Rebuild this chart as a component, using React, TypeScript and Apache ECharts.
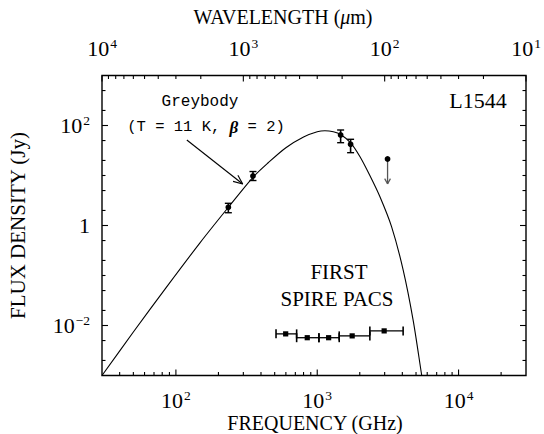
import React, { useEffect, useRef } from 'react';
import * as echarts from 'echarts';

// Greybody model curve
const greybodyFreq = [30, 50, 84, 148, 235, 351, 450, 600, 800, 1000, 1133, 1300, 1464, 1722, 2003, 2357, 2773, 3356, 4053, 4766, 5470, 5700];
const greybodyFlux = [0.001, 0.0074, 0.054, 0.45, 2.31, 9.2, 18, 36, 59, 75, 78.7, 75, 66, 45, 24, 10, 3.8, 0.95, 0.13, 0.013, 0.00106, 0.0005];

// Observed points with error bars
const obsFreq = [235, 351, 1464, 1722];
const obsFlux = [2.31, 9.77, 64.6, 42];
const obsLow = [1.8, 7.94, 45.3, 28.6];
const obsHigh = [2.78, 12.0, 81.3, 53];

// Upper limit
const ulFreq = [3145];
const ulFlux = [21.4];
const ulTip = [6.8];

// FIRST SPIRE / PACS bands
const bandLow = [511, 715, 1028, 1431, 2357];
const bandHigh = [715, 1028, 1431, 2357, 4053];
const bandCenter = [598, 850, 1204, 1767, 2975];
const bandFlux = [0.0068, 0.0057, 0.0057, 0.0062, 0.0078];

// Annotation arrow (data coordinates)
const arrowFrom = [119.5, 51.3];
const arrowTo = [297, 6.76];

// Axis ranges
const freqMin = 30;
const freqMax = 30000;
const waveMin = 10;
const waveMax = 10000;
const fluxMin = 0.001;
const fluxMax = 1000;

// Tick values
const freqMajor = [100, 1000, 10000];
const freqMult = [2, 3, 4, 5, 6, 7, 8, 9];
const freqDecades = [10, 100, 1000, 10000];
const waveMajor = [10, 100, 1000, 10000];
const waveDecades = [10, 100, 1000];
const fluxMajor = [0.01, 1, 100];
const fluxDecades = [0.001, 0.01, 0.1, 1, 10, 100];
const fluxMult = [1, 2, 5];

const SERIF = '"Liberation Serif", "Times New Roman", serif';
const MONO = '"Liberation Mono", "DejaVu Sans Mono", monospace';
const MAJOR = 6;
const MINOR = 3.5;

function buildFreqTicks() {
  const t: number[][] = [];
  freqMajor.forEach((v) => t.push([v, fluxMin, MAJOR]));
  freqDecades.forEach((d) =>
    freqMult.forEach((m) => {
      const v = d * m;
      if (v > freqMin && v < freqMax) t.push([v, fluxMin, MINOR]);
    })
  );
  return t;
}
function buildWaveTicks() {
  const t: number[][] = [];
  waveMajor.forEach((v) => t.push([v, fluxMax, MAJOR]));
  waveDecades.forEach((d) =>
    freqMult.forEach((m) => {
      const v = d * m;
      if (v > waveMin && v < waveMax) t.push([v, fluxMax, MINOR]);
    })
  );
  return t;
}
function buildFluxTicks() {
  const t: number[][] = [];
  fluxDecades.forEach((d) =>
    fluxMult.forEach((m) => {
      const v = d * m;
      if (v > fluxMin && v < fluxMax) {
        const major = fluxMajor.some((x) => Math.abs(x - v) / x < 1e-6);
        t.push([freqMin, v, major ? MAJOR : MINOR]);
      }
    })
  );
  return t;
}

function powLabel(v: number, evenOnly: boolean) {
  const e = Math.log10(v);
  const r = Math.round(e);
  if (Math.abs(e - r) > 1e-6) return '';
  if (evenOnly && r % 2 !== 0) return '';
  if (r === 0) return '{b|1}';
  return `{b|10}{s|${r < 0 ? '\u2212' : ''}${Math.abs(r)}}`;
}

const labelRich = {
  b: { fontFamily: SERIF, fontSize: 22, color: '#000' },
  s: { fontFamily: SERIF, fontSize: 13.5, color: '#000', padding: [0, 0, 10, 1] },
};

const line = (x1: number, y1: number, x2: number, y2: number, w = 1, c = '#000') => ({
  type: 'line',
  shape: { x1, y1, x2, y2 },
  style: { stroke: c, lineWidth: w },
});

function arrowHead(tip: number[], from: number[], len: number, ang: number, w: number, c: string) {
  const dx = from[0] - tip[0];
  const dy = from[1] - tip[1];
  const L = Math.hypot(dx, dy) || 1;
  const ux = dx / L;
  const uy = dy / L;
  const rot = (a: number) => [ux * Math.cos(a) - uy * Math.sin(a), ux * Math.sin(a) + uy * Math.cos(a)];
  const a1 = rot(ang);
  const a2 = rot(-ang);
  return [
    line(tip[0], tip[1], tip[0] + a1[0] * len, tip[1] + a1[1] * len, w, c),
    line(tip[0], tip[1], tip[0] + a2[0] * len, tip[1] + a2[1] * len, w, c),
  ];
}

export default function App() {
  const ref = useRef<HTMLDivElement>(null);

  useEffect(() => {
    if (!ref.current) return;
    const chart = echarts.init(ref.current, undefined, { renderer: 'svg' });

    const curve = greybodyFreq.map((f, i) => [f, greybodyFlux[i]]);
    const obs = obsFreq.map((f, i) => [f, obsFlux[i], obsLow[i], obsHigh[i]]);
    const ul = ulFreq.map((f, i) => [f, ulFlux[i], ulTip[i]]);
    const bands = bandCenter.map((f, i) => [f, bandFlux[i], bandLow[i], bandHigh[i]]);

    const option: any = {
      animation: false,
      backgroundColor: '#fff',
      grid: {
        left: 102,
        right: 18,
        top: 75.5,
        bottom: 58.5,
        show: true,
        borderColor: '#000',
        borderWidth: 1.4,
        containLabel: false,
        outerBoundsMode: 'none',
      },
      xAxis: [
        {
          type: 'log',
          logBase: 10,
          min: freqMin,
          max: freqMax,
          position: 'bottom',
          axisLine: { show: false },
          axisTick: { show: false },
          splitLine: { show: false },
          minorTick: { show: false },
          axisLabel: {
            formatter: (v: number) => powLabel(v, false),
            rich: labelRich,
            margin: 13,
          },
        },
        {
          type: 'log',
          logBase: 10,
          min: waveMin,
          max: waveMax,
          inverse: true,
          position: 'top',
          axisLine: { show: false },
          axisTick: { show: false },
          splitLine: { show: false },
          axisLabel: {
            formatter: (v: number) => powLabel(v, false),
            rich: labelRich,
            margin: 15,
          },
        },
      ],
      yAxis: [
        {
          type: 'log',
          logBase: 10,
          min: fluxMin,
          max: fluxMax,
          axisLine: { show: false },
          axisTick: { show: false },
          splitLine: { show: false },
          axisLabel: {
            formatter: (v: number) => powLabel(v, true),
            rich: labelRich,
            margin: 12,
          },
          name: 'FLUX DENSITY (Jy)',
          nameLocation: 'middle',
          nameGap: 73.5,
          nameRotate: 90,
          nameTextStyle: { fontFamily: SERIF, fontSize: 21, color: '#000' },
        },
      ],
      series: [
        {
          name: 'Greybody',
          type: 'line',
          data: curve,
          xAxisIndex: 0,
          yAxisIndex: 0,
          smooth: 0.3,
          showSymbol: false,
          symbol: 'none',
          clip: true,
          lineStyle: { color: '#000', width: 1.1 },
          silent: true,
          z: 3,
        },
        {
          name: 'freqTicks',
          type: 'custom',
          xAxisIndex: 0,
          yAxisIndex: 0,
          data: buildFreqTicks(),
          encode: { x: 0, y: 1 },
          silent: true,
          renderItem: (_p: any, api: any) => {
            const v = api.value(0);
            const len = api.value(2);
            const p = api.coord([v, fluxMin]);
            return line(p[0], p[1], p[0], p[1] - len, 1.1);
          },
        },
        {
          name: 'waveTicks',
          type: 'custom',
          xAxisIndex: 1,
          yAxisIndex: 0,
          data: buildWaveTicks(),
          encode: { x: 0, y: 1 },
          silent: true,
          renderItem: (_p: any, api: any) => {
            const v = api.value(0);
            const len = api.value(2);
            const p = api.coord([v, fluxMax]);
            return line(p[0], p[1], p[0], p[1] + len, 1.1);
          },
        },
        {
          name: 'fluxTicks',
          type: 'custom',
          xAxisIndex: 0,
          yAxisIndex: 0,
          data: buildFluxTicks(),
          encode: { x: 0, y: 1 },
          silent: true,
          renderItem: (_p: any, api: any) => {
            const v = api.value(1);
            const len = api.value(2);
            const l = api.coord([freqMin, v]);
            const r = api.coord([freqMax, v]);
            return {
              type: 'group',
              children: [line(l[0], l[1], l[0] + len, l[1], 1.1), line(r[0], r[1], r[0] - len, r[1], 1.1)],
            };
          },
        },
        {
          name: 'Observed',
          type: 'custom',
          xAxisIndex: 0,
          yAxisIndex: 0,
          data: obs,
          encode: { x: 0, y: 1 },
          silent: true,
          z: 4,
          renderItem: (_p: any, api: any) => {
            const f = api.value(0);
            const p = api.coord([f, api.value(1)]);
            const a = api.coord([f, api.value(2)]);
            const b = api.coord([f, api.value(3)]);
            const cw = 3.5;
            return {
              type: 'group',
              children: [
                line(p[0], a[1], p[0], b[1], 1.6),
                line(p[0] - cw, a[1], p[0] + cw, a[1], 1.4),
                line(p[0] - cw, b[1], p[0] + cw, b[1], 1.4),
                { type: 'circle', shape: { cx: p[0], cy: p[1], r: 2.9 }, style: { fill: '#000' } },
              ],
            };
          },
        },
        {
          name: 'UpperLimit',
          type: 'custom',
          xAxisIndex: 0,
          yAxisIndex: 0,
          data: ul,
          encode: { x: 0, y: 1 },
          silent: true,
          z: 4,
          renderItem: (_p: any, api: any) => {
            const f = api.value(0);
            const p = api.coord([f, api.value(1)]);
            const t = api.coord([f, api.value(2)]);
            return {
              type: 'group',
              children: [
                line(p[0], p[1], t[0], t[1], 1.3, '#555'),
                ...arrowHead(t, p, 6, 0.5, 1.2, '#555'),
                { type: 'circle', shape: { cx: p[0], cy: p[1], r: 2.9 }, style: { fill: '#000' } },
              ],
            };
          },
        },
        {
          name: 'Bands',
          type: 'custom',
          xAxisIndex: 0,
          yAxisIndex: 0,
          data: bands,
          encode: { x: 0, y: 1 },
          silent: true,
          z: 4,
          renderItem: (_p: any, api: any) => {
            const v = api.value(1);
            const c = api.coord([api.value(0), v]);
            const lo = api.coord([api.value(2), v]);
            const hi = api.coord([api.value(3), v]);
            const h = 4.5;
            const s = 2.6;
            return {
              type: 'group',
              children: [
                line(lo[0], c[1], hi[0], c[1], 1.3),
                line(lo[0], c[1] - h, lo[0], c[1] + h, 1.6),
                line(hi[0], c[1] - h, hi[0], c[1] + h, 1.6),
                { type: 'rect', shape: { x: c[0] - s, y: c[1] - s, width: 2 * s, height: 2 * s }, style: { fill: '#000' } },
              ],
            };
          },
        },
        {
          name: 'Arrow',
          type: 'custom',
          xAxisIndex: 0,
          yAxisIndex: 0,
          data: [[arrowFrom[0], arrowFrom[1], arrowTo[0], arrowTo[1]]],
          encode: { x: [0, 2], y: [1, 3] },
          silent: true,
          renderItem: (_p: any, api: any) => {
            const a = api.coord([api.value(0), api.value(1)]);
            const b = api.coord([api.value(2), api.value(3)]);
            return {
              type: 'group',
              children: [line(a[0], a[1], b[0], b[1], 1.1), ...arrowHead(b, a, 10, 0.4, 1.1, '#000')],
            };
          },
        },
      ],
      graphic: [
        {
          type: 'text',
          x: 283,
          y: 17,
          silent: true,
          style: {
            text: 'WAVELENGTH ({i|\u03bc}m)',
            fontFamily: SERIF,
            fontSize: 20,
            fill: '#000',
            align: 'center',
            verticalAlign: 'middle',
            rich: { i: { fontFamily: SERIF, fontSize: 20, fontStyle: 'italic', fill: '#000' } },
          },
        },
        {
          type: 'text',
          x: 315,
          y: 423,
          silent: true,
          style: { text: 'FREQUENCY (GHz)', fontFamily: SERIF, fontSize: 20, fill: '#000', align: 'center', verticalAlign: 'middle' },
        },
        {
          type: 'text',
          x: 200,
          y: 102,
          silent: true,
          style: { text: 'Greybody', fontFamily: MONO, fontSize: 16, fill: '#000', align: 'center', verticalAlign: 'middle' },
        },
        {
          type: 'text',
          x: 206,
          y: 127,
          silent: true,
          style: {
            text: '(T = 11 K, {b|\u03b2} = 2)',
            fontFamily: MONO,
            fontSize: 15.5,
            fill: '#000',
            align: 'center',
            verticalAlign: 'middle',
            rich: { b: { fontFamily: SERIF, fontStyle: 'italic', fontWeight: 'bold', fontSize: 17, fill: '#000' } },
          },
        },
        {
          type: 'text',
          x: 478,
          y: 100,
          silent: true,
          style: { text: 'L1544', fontFamily: SERIF, fontSize: 22, fill: '#000', align: 'center', verticalAlign: 'middle' },
        },
        {
          type: 'text',
          x: 339,
          y: 272,
          silent: true,
          style: { text: 'FIRST', fontFamily: SERIF, fontSize: 21, fill: '#000', align: 'center', verticalAlign: 'middle' },
        },
        {
          type: 'text',
          x: 337,
          y: 299,
          silent: true,
          style: { text: 'SPIRE PACS', fontFamily: SERIF, fontSize: 21, fill: '#000', align: 'center', verticalAlign: 'middle' },
        },
      ],
    };

    chart.setOption(option);
    return () => chart.dispose();
  }, []);

  return <div ref={ref} style={{ width: 544, height: 434, position: 'absolute', left: 0, top: 0, background: '#fff' }} />;
}
